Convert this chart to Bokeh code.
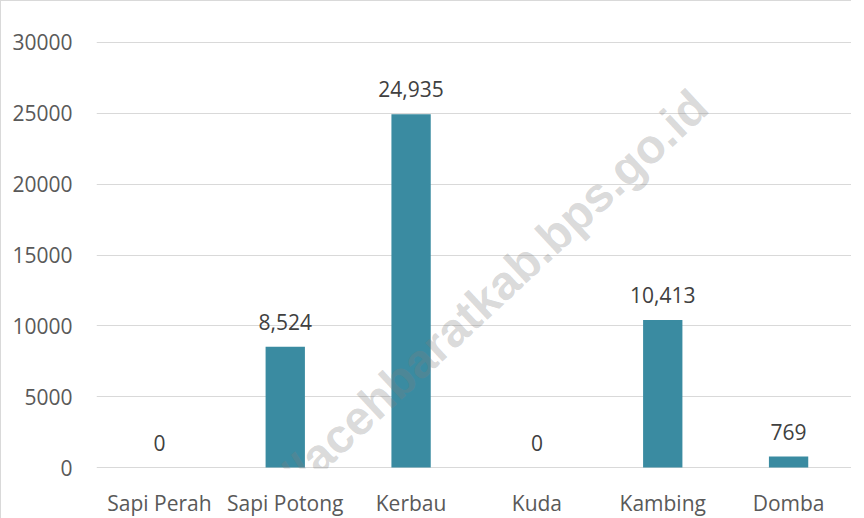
from bokeh.plotting import figure
from bokeh.models import ColumnDataSource, FixedTicker, LabelSet, Label, Range1d
from bokeh.core.properties import value
from bokeh.embed import file_html
from bokeh.resources import INLINE

categories = ["Sapi Perah", "Sapi Potong", "Kerbau", "Kuda", "Kambing", "Domba"]
values = [0, 8524, 24935, 0, 10413, 769]
value_labels = ["0", "8,524", "24,935", "0", "10,413", "769"]
y_ticks = [0, 5000, 10000, 15000, 20000, 25000, 30000]
watermark = "https://acehbaratkab.bps.go.id"

src = ColumnDataSource(dict(cat=categories, val=values, lab=value_labels))

p = figure(x_range=categories, y_range=Range1d(-70, 30070),
           frame_width=755, frame_height=427,
           min_border_left=95, min_border_right=0, min_border_top=40, min_border_bottom=34,
           output_backend="svg", toolbar_location=None,
           background_fill_color="white", border_fill_color="white")
p.outline_line_color = None
p.styles = {"border-left": "1px solid #d9d9d9", "border-top": "1px solid #d9d9d9"}

p.vbar(x="cat", top="val", width=0.3125, source=src, fill_color="#3A8BA1", line_color=None)

p.xgrid.grid_line_color = None
p.ygrid.grid_line_color = "#d9d9d9"
p.ygrid.grid_line_width = 1

for ax in (p.xaxis, p.yaxis):
    ax.axis_line_color = None
    ax.major_tick_line_color = None
    ax.minor_tick_line_color = None
    ax.major_tick_out = 0
    ax.major_tick_in = 0
    ax.minor_tick_out = 0
    ax.major_label_text_font = "Open Sans"
    ax.major_label_text_font_size = "21px"
    ax.major_label_text_color = "#595959"

p.yaxis.ticker = FixedTicker(ticks=y_ticks)
p.yaxis.major_label_standoff = 24
p.xaxis.major_label_standoff = 20

labels = LabelSet(x="cat", y="val", text="lab", source=src, text_align="center",
                  text_baseline="alphabetic", y_offset=17, text_font=value("Open Sans"),
                  text_font_size="21px", text_color="#404040")
p.add_layout(labels)

wm = Label(x=4.796, y=26027, text=watermark, angle=43, angle_units="deg",
           text_align="right", text_baseline="alphabetic",
           text_font="Liberation Sans", text_font_style="bold", text_font_size="48px",
           text_color="#7f7f7f", text_alpha=0.3)
p.add_layout(wm)

open("out.html", "w").write(file_html(p, INLINE))
